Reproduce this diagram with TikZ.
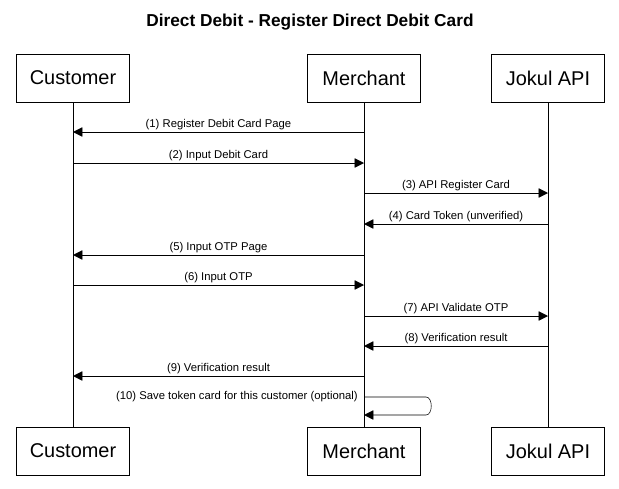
\documentclass[tikz,border=0pt]{standalone}
\usepackage{fontspec}
\setmainfont{Liberation Sans}
\usetikzlibrary{positioning,arrows.meta}

\begin{document}
\begin{tikzpicture}[
		x=0.02646cm, y=-0.02646cm,
		actor/.style={rectangle, draw, fill=white, minimum width=3.0cm, minimum height=1.27cm, font=\fontsize{15}{18}\selectfont},
		msg/.style={-{Triangle[length=7pt,width=7pt]}, thin},
		lbl/.style={above, font=\fontsize{8.5}{10}\selectfont, inner sep=1.5pt}
		]
		\useasboundingbox (0,0) rectangle (619,488);
		\node[font=\bfseries\fontsize{13}{15}\selectfont] (title) at (310,22) {Direct Debit - Register Direct Debit Card};
		
		% actors, top and bottom
		\node[actor] (cust) at (73,78) {Customer};
		\node[actor] (merch) at (364,78) {Merchant};
		\node[actor] (jokul) at (548,78) {Jokul API};
		\node[actor] (custb) at (73,451) {Customer};
		\node[actor] (merchb) at (364,451) {Merchant};
		\node[actor] (jokulb) at (548,451) {Jokul API};
		
		\draw (cust) -- (custb);
		\draw (merch) -- (merchb);
		\draw (jokul) -- (jokulb);
		
		% messages
		\foreach \n/\fx/\tx/\y/\t in {
			1/364/73/132/Register Debit Card Page,
			2/73/364/163/Input Debit Card,
			3/364/548/193/API Register Card,
			4/548/364/224/Card Token (unverified),
			5/364/73/255/Input OTP Page,
			6/73/364/285/Input OTP,
			7/364/548/316/API Validate OTP,
			8/548/364/346/Verification result,
			9/364/73/376/Verification result}{
			\coordinate (f\n) at (\fx,\y);
			\coordinate (t\n) at (\tx,\y);
			\draw[msg] (f\n) -- node[lbl] {(\n) \t} (t\n);
		}
		
		\coordinate (s1) at (364,397);
		\coordinate (s2) at (364,415);
		\draw[msg] (s1) -- (426,397) to[out=0,in=0] (426,415) -- (s2);
		\node[lbl, anchor=south east, inner sep=1.5pt] (selflbl) at (360,404) {(10) Save token card for this customer (optional)};
	\end{tikzpicture}
\end{document}
